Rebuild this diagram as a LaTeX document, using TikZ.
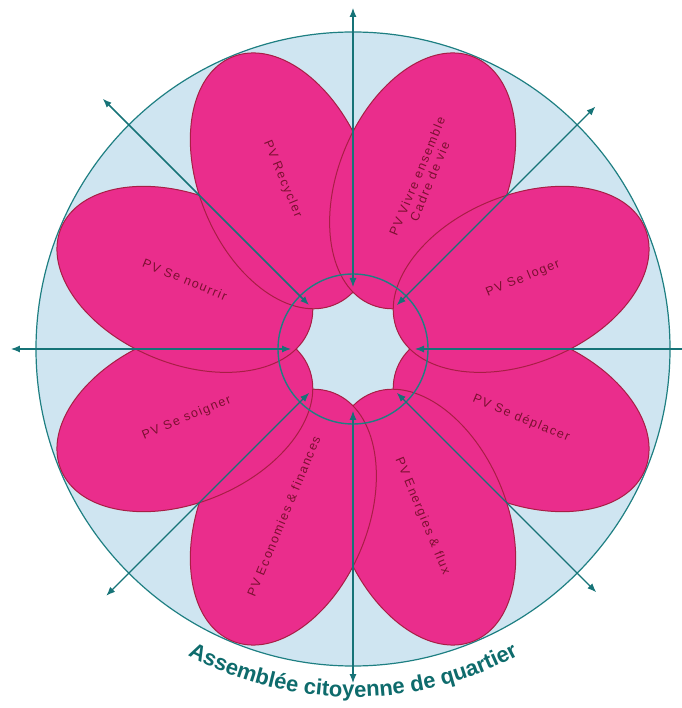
\documentclass[tikz,border=0pt]{standalone}
\usepackage{fontspec}
\setmainfont{Liberation Sans}
\setsansfont{Liberation Sans}
\newfontfamily\petalfont[LetterSpace=12]{Liberation Sans}
\usetikzlibrary{arrows.meta,decorations.text}
\definecolor{skyfill}{HTML}{CFE5F1}
\definecolor{rimteal}{HTML}{1E7F82}
\definecolor{spoketeal}{HTML}{167377}
\definecolor{petalpink}{HTML}{EA2D8C}
\definecolor{petalrim}{HTML}{A81E45}
\definecolor{petaltext}{HTML}{7A1030}
\definecolor{titleteal}{HTML}{0E6B6C}
\tikzset{
  petal/.style={fill=petalpink, draw=petalrim, line width=1pt},
  petallabel/.style={text=petaltext, font=\petalfont\fontsize{12.5}{13.5}\selectfont, align=center, inner sep=0pt},
  spoke/.style={draw=spoketeal, {Latex[length=9pt,width=7pt]}-{Latex[length=9pt,width=7pt]}},
}
\begin{document}
\begin{tikzpicture}[x=1pt,y=1pt]
\useasboundingbox (-353,-359) rectangle (328,349);
\coordinate (c) at (0,0);
% disc
\draw[fill=skyfill, draw=rimteal, line width=1.2pt] (c) circle (317);
% petals, lower angle on top
\foreach \a in {337.5,292.5,247.5,202.5,157.5,112.5,67.5,22.5}
  \draw[petal, rotate=\a] (182,0) ellipse (134 and 84);
% labels
\node[petallabel, rotate=22.5] (loger) at (22.5:184) {PV Se loger};
\node[petallabel, rotate=67.5] (vivre) at (67.5:184) {PV Vivre ensemble\\Cadre de vie};
\node[petallabel, rotate=-67.5] (recycler) at (112.5:184) {PV Recycler};
\node[petallabel, rotate=-22.5] (nourrir) at (157.5:182) {PV Se nourrir};
\node[petallabel, rotate=22.5] (soigner) at (202.5:180) {PV Se soigner};
\node[petallabel, rotate=67.5] (economies) at (247.5:181) {PV Economies \& finances};
\node[petallabel, rotate=-67.5] (energies) at (292.5:181) {PV Energies \& flux};
\node[petallabel, rotate=-22.5] (deplacer) at (337.5:182) {PV Se déplacer};
% inner ring
\draw[rimteal, line width=1.4pt] (c) circle (75);
% spokes
\foreach \a/\r/\w [count=\i] in {0/340/1.1, 45/343/1.1, 90/341/1.1, 135/354/1.7,
    180/342/1.1, 225/349/1.1, 270/334/1.1, 315/344/1.1} {
  \coordinate (out\i) at (\a:\r);
  \coordinate (in\i) at (\a:62);
  \draw[spoke, line width=\w pt] (in\i) -- (out\i);
}
% title
\path[decorate, decoration={text along path, text align=center,
  text={|\sffamily\bfseries\fontsize{22}{22}\selectfont\color{titleteal}|Assemblée citoyenne de quartier}}]
  (240:348) arc (240:300:348);
\end{tikzpicture}
\end{document}
